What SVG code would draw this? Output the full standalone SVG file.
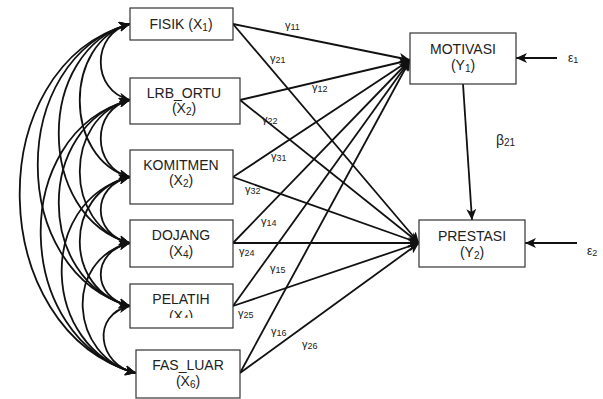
<svg xmlns="http://www.w3.org/2000/svg" width="603" height="399" viewBox="0 0 603 399">
<style>
.box{fill:#fff;stroke:#333;stroke-width:1.2}
.t{font-family:"Liberation Sans",Arial,sans-serif;font-size:14px;fill:#222;text-anchor:middle}
.s{font-size:10px}
.g{font-family:"Liberation Sans",Arial,sans-serif;font-size:11px;fill:#222}
.gs{font-size:9px}
.c{fill:none;stroke:#111;stroke-width:1.8}
.l{fill:none;stroke:#111;stroke-width:1.8;marker-end:url(#ah)}
.cv{marker-start:url(#ahs);marker-end:url(#ah)}
</style>
<defs>
<marker id="ah" markerUnits="userSpaceOnUse" markerWidth="12" markerHeight="10" refX="11" refY="5" orient="auto">
<path d="M0,0 L11,5 L0,10 L3,5 Z" fill="#111"/>
</marker>
<marker id="ahs" markerUnits="userSpaceOnUse" markerWidth="12" markerHeight="10" refX="11" refY="5" orient="auto-start-reverse">
<path d="M0,0 L11,5 L0,10 L3,5 Z" fill="#111"/>
</marker>
<clipPath id="pclip"><rect x="130" y="284" width="103" height="34"/></clipPath>
</defs>

<g id="connectors">
<!-- correlations -->
<path class="c cv" d="M130,24 C91,33 91,91 130,100"/>
<path class="c cv" d="M130,24 C63,42 63,159 130,177"/>
<path class="c cv" d="M130,24 C35,50 35,217 130,243"/>
<path class="c cv" d="M130,24 C7,58 7,272 130,306"/>
<path class="c cv" d="M130,24 C-21,66 -15,331 136,373"/>
<path class="c cv" d="M130,100 C91,109 91,168 130,177"/>
<path class="c cv" d="M130,100 C63,117 63,226 130,243"/>
<path class="c cv" d="M130,100 C35,125 35,281 130,306"/>
<path class="c cv" d="M130,100 C7,133 13,340 136,373"/>
<path class="c cv" d="M130,177 C91,185 91,235 130,243"/>
<path class="c cv" d="M130,177 C63,192 63,291 130,306"/>
<path class="c cv" d="M130,177 C35,201 41,349 136,373"/>
<path class="c cv" d="M130,243 C91,251 91,298 130,306"/>
<path class="c cv" d="M130,243 C63,259 69,357 136,373"/>
<path class="c cv" d="M130,306 C91,314 97,365 136,373"/>
<!-- paths to MOTIVASI -->
<line class="l" x1="233" y1="24" x2="410" y2="60"/>
<line class="l" x1="240" y1="100" x2="410" y2="60"/>
<line class="l" x1="233" y1="177" x2="410" y2="60"/>
<line class="l" x1="233" y1="243" x2="410" y2="60"/>
<line class="l" x1="233" y1="306" x2="410" y2="60"/>
<line class="l" x1="240" y1="373" x2="410" y2="60"/>
<!-- paths to PRESTASI -->
<line class="l" x1="233" y1="24" x2="419" y2="243"/>
<line class="l" x1="240" y1="100" x2="419" y2="243"/>
<line class="l" x1="233" y1="177" x2="419" y2="243"/>
<line class="l" x1="233" y1="243" x2="419" y2="243"/>
<line class="l" x1="233" y1="306" x2="419" y2="243"/>
<line class="l" x1="240" y1="373" x2="419" y2="243"/>
<!-- beta and errors -->
<line class="l" x1="463" y1="84" x2="472" y2="220"/>
<line class="l" x1="557" y1="58" x2="516" y2="58"/>
<line class="l" x1="577" y1="243" x2="525" y2="243"/>
<!-- labels -->
<text class="g" x="285" y="29">γ<tspan class="gs" dy="1">11</tspan></text>
<text class="g" x="270" y="62">γ<tspan class="gs" dy="1">21</tspan></text>
<text class="g" x="312" y="91">γ<tspan class="gs" dy="1">12</tspan></text>
<text class="g" x="262" y="123">γ<tspan class="gs" dy="1">22</tspan></text>
<text class="g" x="271" y="160">γ<tspan class="gs" dy="1">31</tspan></text>
<text class="g" x="245" y="193">γ<tspan class="gs" dy="1">32</tspan></text>
<text class="g" x="261" y="225">γ<tspan class="gs" dy="1">14</tspan></text>
<text class="g" x="239" y="255">γ<tspan class="gs" dy="1">24</tspan></text>
<text class="g" x="270" y="272">γ<tspan class="gs" dy="1">15</tspan></text>
<text class="g" x="238" y="317">γ<tspan class="gs" dy="1">25</tspan></text>
<text class="g" x="271" y="335">γ<tspan class="gs" dy="1">16</tspan></text>
<text class="g" x="302" y="348">γ<tspan class="gs" dy="1">26</tspan></text>
<text class="g" x="496" y="145" style="font-size:14px">β<tspan class="gs" style="font-size:10px" dy="1">21</tspan></text>
<text class="g" x="568" y="62" style="font-size:12px">ε<tspan class="gs" dy="1">1</tspan></text>
<text class="g" x="587" y="255" style="font-size:12px">ε<tspan class="gs" dy="1">2</tspan></text>
</g>

<g id="fisik">
<rect class="box" x="130" y="8" width="103" height="32"/>
<text class="t" x="181" y="29">FISIK (X<tspan class="s" dy="2">1</tspan><tspan dy="-2">)</tspan></text>
</g>
<g id="lrb_ortu">
<rect class="box" x="130" y="78" width="110" height="46"/>
<text class="t" x="184" y="98">LRB_ORTU</text>
<text class="t" x="184" y="113">(X<tspan class="s" dy="2">2</tspan><tspan dy="-2">)</tspan></text>
</g>
<g id="komitmen">
<rect class="box" x="130" y="150" width="103" height="54"/>
<text class="t" x="181" y="170">KOMITMEN</text>
<text class="t" x="181" y="185">(X<tspan class="s" dy="2">2</tspan><tspan dy="-2">)</tspan></text>
</g>
<g id="dojang">
<rect class="box" x="130" y="220" width="103" height="47"/>
<text class="t" x="181" y="240">DOJANG</text>
<text class="t" x="181" y="256">(X<tspan class="s" dy="2">4</tspan><tspan dy="-2">)</tspan></text>
</g>
<g id="pelatih">
<rect class="box" x="130" y="284" width="103" height="44"/>
<text class="t" x="181" y="304">PELATIH</text>
<text class="t" x="181" y="321" clip-path="url(#pclip)">(X<tspan class="s" dy="2">4</tspan><tspan dy="-2">)</tspan></text>
</g>
<g id="fas_luar">
<rect class="box" x="136" y="350" width="104" height="48"/>
<text class="t" x="188" y="370">FAS_LUAR</text>
<text class="t" x="188" y="386">(X<tspan class="s" dy="2">6</tspan><tspan dy="-2">)</tspan></text>
</g>
<g id="motivasi">
<rect class="box" x="410" y="33" width="106" height="51"/>
<text class="t" x="463" y="54">MOTIVASI</text>
<text class="t" x="463" y="70">(Y<tspan class="s" dy="2">1</tspan><tspan dy="-2">)</tspan></text>
</g>
<g id="prestasi">
<rect class="box" x="419" y="220" width="106" height="47"/>
<text class="t" x="472" y="241">PRESTASI</text>
<text class="t" x="472" y="257">(Y<tspan class="s" dy="2">2</tspan><tspan dy="-2">)</tspan></text>
</g>
</svg>
